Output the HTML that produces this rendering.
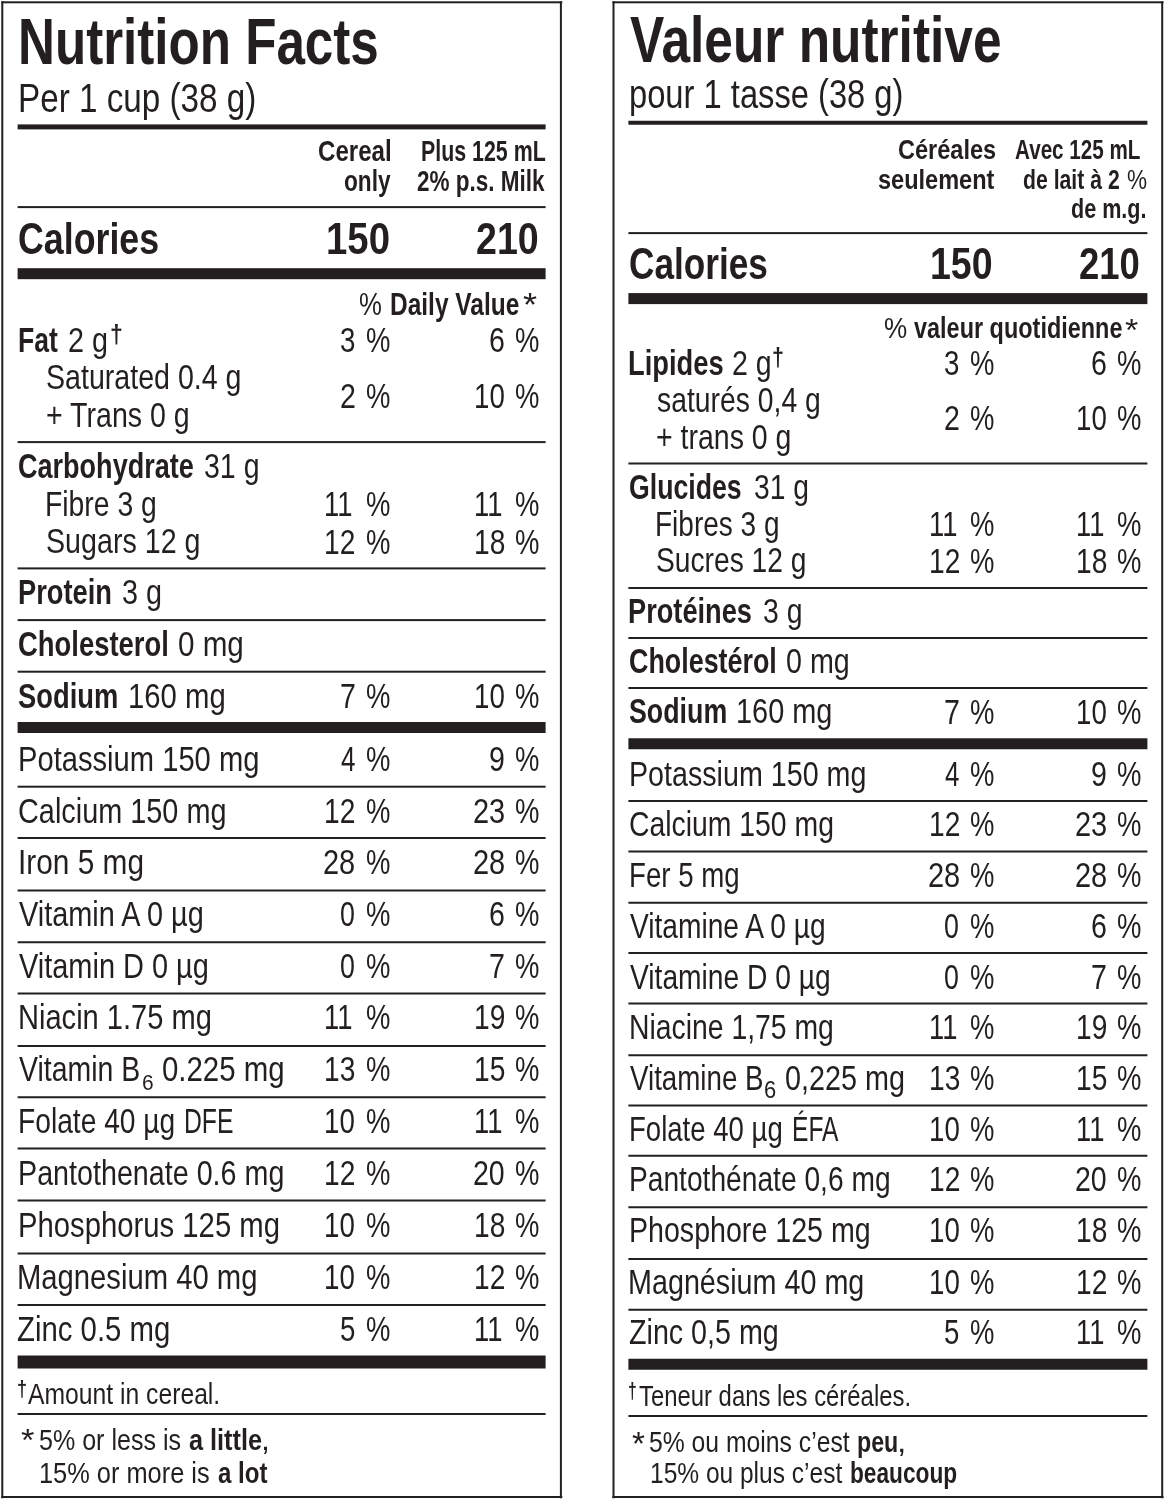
<!DOCTYPE html>
<html lang="en">
<head>
<meta charset="utf-8">
<title>Nutrition Facts / Valeur nutritive</title>
<style>
html,body{margin:0;padding:0;background:#fff;}
body{width:1165px;height:1500px;position:relative;overflow:hidden;font-family:"Liberation Sans", sans-serif;color:#231f20;}
.r{position:absolute;background:#231f20;}
.t{position:absolute;white-space:nowrap;line-height:1;transform-origin:0 0;font-weight:400;}
.b{font-weight:700;}
#w{position:absolute;left:0;top:0;width:1165px;height:1500px;will-change:transform;}
</style>
</head>
<body>
<div id="w">
<div class="r" style="left:0;top:0;width:560.6px;height:2px;transform:translate(1.3px,1.3px)"></div>
<div class="r" style="left:0;top:0;width:560.6px;height:1.9px;transform:translate(1.3px,1496px)"></div>
<div class="r" style="left:0;top:0;width:1.9px;height:1496.6px;transform:translate(1.3px,1.3px)"></div>
<div class="r" style="left:0;top:0;width:2px;height:1496.6px;transform:translate(559.9px,1.3px)"></div>
<div class="r" style="left:0;top:0;width:527.7px;height:4.5px;transform:translate(17.6px,124.4px)"></div>
<div class="r" style="left:0;top:0;width:527.7px;height:2px;transform:translate(17.6px,206.1px)"></div>
<div class="r" style="left:0;top:0;width:527.7px;height:11px;transform:translate(17.6px,268.2px)"></div>
<div class="r" style="left:0;top:0;width:527.7px;height:2px;transform:translate(17.6px,441.1px)"></div>
<div class="r" style="left:0;top:0;width:527.7px;height:2px;transform:translate(17.6px,567.4px)"></div>
<div class="r" style="left:0;top:0;width:527.7px;height:2px;transform:translate(17.6px,619.1px)"></div>
<div class="r" style="left:0;top:0;width:527.7px;height:2px;transform:translate(17.6px,670.7px)"></div>
<div class="r" style="left:0;top:0;width:527.7px;height:10.9px;transform:translate(17.6px,722px)"></div>
<div class="r" style="left:0;top:0;width:527.7px;height:2px;transform:translate(17.6px,785.7px)"></div>
<div class="r" style="left:0;top:0;width:527.7px;height:2px;transform:translate(17.6px,837px)"></div>
<div class="r" style="left:0;top:0;width:527.7px;height:2px;transform:translate(17.6px,889.5px)"></div>
<div class="r" style="left:0;top:0;width:527.7px;height:2px;transform:translate(17.6px,941.25px)"></div>
<div class="r" style="left:0;top:0;width:527.7px;height:2px;transform:translate(17.6px,992.5px)"></div>
<div class="r" style="left:0;top:0;width:527.7px;height:2px;transform:translate(17.6px,1045px)"></div>
<div class="r" style="left:0;top:0;width:527.7px;height:2px;transform:translate(17.6px,1096.25px)"></div>
<div class="r" style="left:0;top:0;width:527.7px;height:2px;transform:translate(17.6px,1147.5px)"></div>
<div class="r" style="left:0;top:0;width:527.7px;height:2px;transform:translate(17.6px,1199.5px)"></div>
<div class="r" style="left:0;top:0;width:527.7px;height:2px;transform:translate(17.6px,1252.5px)"></div>
<div class="r" style="left:0;top:0;width:527.7px;height:2px;transform:translate(17.6px,1304px)"></div>
<div class="r" style="left:0;top:0;width:527.7px;height:12.5px;transform:translate(17.6px,1355.5px)"></div>
<div class="r" style="left:0;top:0;width:527.7px;height:2px;transform:translate(17.6px,1413px)"></div>
<div class="r" style="left:0;top:0;width:550.6px;height:2px;transform:translate(612.5px,1.3px)"></div>
<div class="r" style="left:0;top:0;width:550.6px;height:1.9px;transform:translate(612.5px,1496px)"></div>
<div class="r" style="left:0;top:0;width:2px;height:1496.6px;transform:translate(612.5px,1.3px)"></div>
<div class="r" style="left:0;top:0;width:1.9px;height:1496.6px;transform:translate(1161.2px,1.3px)"></div>
<div class="r" style="left:0;top:0;width:518.6px;height:4.25px;transform:translate(628.4px,120.75px)"></div>
<div class="r" style="left:0;top:0;width:518.6px;height:2px;transform:translate(628.4px,232.1px)"></div>
<div class="r" style="left:0;top:0;width:518.6px;height:10.6px;transform:translate(628.4px,293.1px)"></div>
<div class="r" style="left:0;top:0;width:518.6px;height:2px;transform:translate(628.4px,462.5px)"></div>
<div class="r" style="left:0;top:0;width:518.6px;height:2px;transform:translate(628.4px,587px)"></div>
<div class="r" style="left:0;top:0;width:518.6px;height:2px;transform:translate(628.4px,637px)"></div>
<div class="r" style="left:0;top:0;width:518.6px;height:2px;transform:translate(628.4px,687px)"></div>
<div class="r" style="left:0;top:0;width:518.6px;height:10.5px;transform:translate(628.4px,738.25px)"></div>
<div class="r" style="left:0;top:0;width:518.6px;height:2px;transform:translate(628.4px,800px)"></div>
<div class="r" style="left:0;top:0;width:518.6px;height:2px;transform:translate(628.4px,850.5px)"></div>
<div class="r" style="left:0;top:0;width:518.6px;height:2px;transform:translate(628.4px,901.75px)"></div>
<div class="r" style="left:0;top:0;width:518.6px;height:2px;transform:translate(628.4px,952px)"></div>
<div class="r" style="left:0;top:0;width:518.6px;height:2px;transform:translate(628.4px,1002.5px)"></div>
<div class="r" style="left:0;top:0;width:518.6px;height:2px;transform:translate(628.4px,1054.25px)"></div>
<div class="r" style="left:0;top:0;width:518.6px;height:2px;transform:translate(628.4px,1104.5px)"></div>
<div class="r" style="left:0;top:0;width:518.6px;height:2px;transform:translate(628.4px,1154.75px)"></div>
<div class="r" style="left:0;top:0;width:518.6px;height:2px;transform:translate(628.4px,1206.25px)"></div>
<div class="r" style="left:0;top:0;width:518.6px;height:2px;transform:translate(628.4px,1258px)"></div>
<div class="r" style="left:0;top:0;width:518.6px;height:2px;transform:translate(628.4px,1308.75px)"></div>
<div class="r" style="left:0;top:0;width:518.6px;height:11.25px;transform:translate(628.4px,1358.75px)"></div>
<div class="r" style="left:0;top:0;width:518.6px;height:2px;transform:translate(628.4px,1415px)"></div>
<div class="t b" style="left:18.30px;top:9.20px;font-size:65.4px;transform:scaleX(0.7818)">Nutrition Facts</div>
<div class="t" style="left:18.40px;top:78.00px;font-size:40px;transform:scaleX(0.8309)">Per 1 cup (38 g)</div>
<div class="t b" style="left:317.75px;top:136.00px;font-size:29.5px;transform:scaleX(0.8168)">Cereal</div>
<div class="t b" style="left:344.29px;top:166.00px;font-size:29.5px;transform:scaleX(0.7679)">only</div>
<div class="t b" style="left:420.66px;top:136.00px;font-size:29.5px;transform:scaleX(0.7243)">Plus 125 mL</div>
<div class="t b" style="left:417.30px;top:166.00px;font-size:29.5px;transform:scaleX(0.7628)">2% p.s. Milk</div>
<div class="t b" style="left:18.38px;top:215.50px;font-size:45px;transform:scaleX(0.7944)">Calories</div>
<div class="t b" style="left:325.60px;top:215.50px;font-size:45px;transform:scaleX(0.8517)">150</div>
<div class="t b" style="left:475.83px;top:215.50px;font-size:45px;transform:scaleX(0.8351)">210</div>
<div class="t" style="left:359.20px;top:288.50px;font-size:30.5px;transform:scaleX(0.8433)">%</div>
<div class="t b" style="left:389.77px;top:288.50px;font-size:30.5px;transform:scaleX(0.8030)">Daily Value</div>
<div class="t" style="left:523.43px;top:287.59px;font-size:40px;transform:scale(0.9043,0.8200)">*</div>
<div class="t b" style="left:18.34px;top:322.76px;font-size:34.6px;transform:scaleX(0.7666)">Fat</div>
<div class="t" style="left:67.65px;top:322.75px;font-size:34.5px;transform:scaleX(0.8332)">2 g</div>
<div class="t b" style="left:109.76px;top:321.19px;font-size:24px;transform:scale(0.9619,1.1026)">†</div>
<div class="t" style="left:340.19px;top:322.75px;font-size:34.5px;transform:scaleX(0.8019)">3</div>
<div class="t" style="left:365.69px;top:322.75px;font-size:34.5px;transform:scaleX(0.7945)">%</div>
<div class="t" style="left:488.96px;top:322.75px;font-size:34.5px;transform:scaleX(0.8286)">6</div>
<div class="t" style="left:514.94px;top:322.75px;font-size:34.5px;transform:scaleX(0.7945)">%</div>
<div class="t" style="left:46.11px;top:360.25px;font-size:34.5px;transform:scaleX(0.8287)">Saturated 0.4 g</div>
<div class="t" style="left:46.16px;top:397.75px;font-size:34.5px;transform:scaleX(0.8278)">+ Trans 0 g</div>
<div class="t" style="left:339.71px;top:379.00px;font-size:34.5px;transform:scaleX(0.8286)">2</div>
<div class="t" style="left:365.69px;top:379.00px;font-size:34.5px;transform:scaleX(0.7945)">%</div>
<div class="t" style="left:473.57px;top:379.00px;font-size:34.5px;transform:scaleX(0.8032)">10</div>
<div class="t" style="left:514.94px;top:379.00px;font-size:34.5px;transform:scaleX(0.7945)">%</div>
<div class="t b" style="left:17.75px;top:449.01px;font-size:34.6px;transform:scaleX(0.7820)">Carbohydrate</div>
<div class="t" style="left:203.61px;top:449.00px;font-size:34.5px;transform:scaleX(0.8264)">31 g</div>
<div class="t" style="left:45.29px;top:486.50px;font-size:34.5px;transform:scaleX(0.8212)">Fibre 3 g</div>
<div class="t" style="left:324.34px;top:487.00px;font-size:34.5px;transform:scaleX(0.7936)">11</div>
<div class="t" style="left:365.69px;top:487.00px;font-size:34.5px;transform:scaleX(0.7945)">%</div>
<div class="t" style="left:473.59px;top:487.00px;font-size:34.5px;transform:scaleX(0.7936)">11</div>
<div class="t" style="left:514.94px;top:487.00px;font-size:34.5px;transform:scaleX(0.7945)">%</div>
<div class="t" style="left:46.10px;top:524.00px;font-size:34.5px;transform:scaleX(0.8305)">Sugars 12 g</div>
<div class="t" style="left:324.29px;top:524.50px;font-size:34.5px;transform:scaleX(0.8156)">12</div>
<div class="t" style="left:365.69px;top:524.50px;font-size:34.5px;transform:scaleX(0.7945)">%</div>
<div class="t" style="left:473.54px;top:524.50px;font-size:34.5px;transform:scaleX(0.8156)">18</div>
<div class="t" style="left:514.94px;top:524.50px;font-size:34.5px;transform:scaleX(0.7945)">%</div>
<div class="t b" style="left:18.29px;top:575.26px;font-size:34.6px;transform:scaleX(0.7889)">Protein</div>
<div class="t" style="left:121.60px;top:575.25px;font-size:34.5px;transform:scaleX(0.8344)">3 g</div>
<div class="t b" style="left:17.74px;top:627.01px;font-size:34.6px;transform:scaleX(0.7927)">Cholesterol</div>
<div class="t" style="left:177.82px;top:627.00px;font-size:34.5px;transform:scaleX(0.8584)">0 mg</div>
<div class="t b" style="left:18.37px;top:678.51px;font-size:34.6px;transform:scaleX(0.7906)">Sodium</div>
<div class="t" style="left:127.67px;top:678.50px;font-size:34.5px;transform:scaleX(0.8493)">160 mg</div>
<div class="t" style="left:339.71px;top:679.00px;font-size:34.5px;transform:scaleX(0.8286)">7</div>
<div class="t" style="left:365.69px;top:679.00px;font-size:34.5px;transform:scaleX(0.7945)">%</div>
<div class="t" style="left:473.57px;top:679.00px;font-size:34.5px;transform:scaleX(0.8032)">10</div>
<div class="t" style="left:514.94px;top:679.00px;font-size:34.5px;transform:scaleX(0.7945)">%</div>
<div class="t" style="left:17.72px;top:741.50px;font-size:34.5px;transform:scaleX(0.8449)">Potassium 150 mg</div>
<div class="t" style="left:340.64px;top:741.50px;font-size:34.5px;transform:scaleX(0.7533)">4</div>
<div class="t" style="left:365.69px;top:741.50px;font-size:34.5px;transform:scaleX(0.7945)">%</div>
<div class="t" style="left:488.96px;top:741.50px;font-size:34.5px;transform:scaleX(0.8286)">9</div>
<div class="t" style="left:514.94px;top:741.50px;font-size:34.5px;transform:scaleX(0.7945)">%</div>
<div class="t" style="left:18.15px;top:793.50px;font-size:34.5px;transform:scaleX(0.8363)">Calcium 150 mg</div>
<div class="t" style="left:324.29px;top:793.50px;font-size:34.5px;transform:scaleX(0.8156)">12</div>
<div class="t" style="left:365.69px;top:793.50px;font-size:34.5px;transform:scaleX(0.7945)">%</div>
<div class="t" style="left:472.64px;top:793.50px;font-size:34.5px;transform:scaleX(0.8400)">23</div>
<div class="t" style="left:514.94px;top:793.50px;font-size:34.5px;transform:scaleX(0.7945)">%</div>
<div class="t" style="left:17.67px;top:844.75px;font-size:34.5px;transform:scaleX(0.8646)">Iron 5 mg</div>
<div class="t" style="left:323.39px;top:844.75px;font-size:34.5px;transform:scaleX(0.8400)">28</div>
<div class="t" style="left:365.69px;top:844.75px;font-size:34.5px;transform:scaleX(0.7945)">%</div>
<div class="t" style="left:472.64px;top:844.75px;font-size:34.5px;transform:scaleX(0.8400)">28</div>
<div class="t" style="left:514.94px;top:844.75px;font-size:34.5px;transform:scaleX(0.7945)">%</div>
<div class="t" style="left:18.75px;top:897.25px;font-size:34.5px;transform:scaleX(0.8371)">Vitamin A 0 µg</div>
<div class="t" style="left:340.21px;top:897.25px;font-size:34.5px;transform:scaleX(0.7768)">0</div>
<div class="t" style="left:365.69px;top:897.25px;font-size:34.5px;transform:scaleX(0.7945)">%</div>
<div class="t" style="left:488.96px;top:897.25px;font-size:34.5px;transform:scaleX(0.8286)">6</div>
<div class="t" style="left:514.94px;top:897.25px;font-size:34.5px;transform:scaleX(0.7945)">%</div>
<div class="t" style="left:18.75px;top:949.00px;font-size:34.5px;transform:scaleX(0.8389)">Vitamin D 0 µg</div>
<div class="t" style="left:340.21px;top:949.00px;font-size:34.5px;transform:scaleX(0.7768)">0</div>
<div class="t" style="left:365.69px;top:949.00px;font-size:34.5px;transform:scaleX(0.7945)">%</div>
<div class="t" style="left:488.96px;top:949.00px;font-size:34.5px;transform:scaleX(0.8286)">7</div>
<div class="t" style="left:514.94px;top:949.00px;font-size:34.5px;transform:scaleX(0.7945)">%</div>
<div class="t" style="left:17.73px;top:1000.25px;font-size:34.5px;transform:scaleX(0.8426)">Niacin 1.75 mg</div>
<div class="t" style="left:324.34px;top:1000.25px;font-size:34.5px;transform:scaleX(0.7936)">11</div>
<div class="t" style="left:365.69px;top:1000.25px;font-size:34.5px;transform:scaleX(0.7945)">%</div>
<div class="t" style="left:473.54px;top:1000.25px;font-size:34.5px;transform:scaleX(0.8156)">19</div>
<div class="t" style="left:514.94px;top:1000.25px;font-size:34.5px;transform:scaleX(0.7945)">%</div>
<div class="t" style="left:324.29px;top:1052.00px;font-size:34.5px;transform:scaleX(0.8156)">13</div>
<div class="t" style="left:365.69px;top:1052.00px;font-size:34.5px;transform:scaleX(0.7945)">%</div>
<div class="t" style="left:473.54px;top:1052.00px;font-size:34.5px;transform:scaleX(0.8156)">15</div>
<div class="t" style="left:514.94px;top:1052.00px;font-size:34.5px;transform:scaleX(0.7945)">%</div>
<div class="t" style="left:17.80px;top:1104.00px;font-size:34.5px;transform:scaleX(0.8171)">Folate 40 µg</div>
<div class="t" style="left:324.32px;top:1104.00px;font-size:34.5px;transform:scaleX(0.8032)">10</div>
<div class="t" style="left:365.69px;top:1104.00px;font-size:34.5px;transform:scaleX(0.7945)">%</div>
<div class="t" style="left:473.59px;top:1104.00px;font-size:34.5px;transform:scaleX(0.7936)">11</div>
<div class="t" style="left:514.94px;top:1104.00px;font-size:34.5px;transform:scaleX(0.7945)">%</div>
<div class="t" style="left:17.76px;top:1155.75px;font-size:34.5px;transform:scaleX(0.8315)">Pantothenate 0.6 mg</div>
<div class="t" style="left:324.29px;top:1155.75px;font-size:34.5px;transform:scaleX(0.8156)">12</div>
<div class="t" style="left:365.69px;top:1155.75px;font-size:34.5px;transform:scaleX(0.7945)">%</div>
<div class="t" style="left:472.66px;top:1155.75px;font-size:34.5px;transform:scaleX(0.8273)">20</div>
<div class="t" style="left:514.94px;top:1155.75px;font-size:34.5px;transform:scaleX(0.7945)">%</div>
<div class="t" style="left:17.71px;top:1207.75px;font-size:34.5px;transform:scaleX(0.8483)">Phosphorus 125 mg</div>
<div class="t" style="left:324.32px;top:1207.75px;font-size:34.5px;transform:scaleX(0.8032)">10</div>
<div class="t" style="left:365.69px;top:1207.75px;font-size:34.5px;transform:scaleX(0.7945)">%</div>
<div class="t" style="left:473.54px;top:1207.75px;font-size:34.5px;transform:scaleX(0.8156)">18</div>
<div class="t" style="left:514.94px;top:1207.75px;font-size:34.5px;transform:scaleX(0.7945)">%</div>
<div class="t" style="left:17.22px;top:1260.25px;font-size:34.5px;transform:scaleX(0.8472)">Magnesium 40 mg</div>
<div class="t" style="left:324.32px;top:1260.25px;font-size:34.5px;transform:scaleX(0.8032)">10</div>
<div class="t" style="left:365.69px;top:1260.25px;font-size:34.5px;transform:scaleX(0.7945)">%</div>
<div class="t" style="left:473.54px;top:1260.25px;font-size:34.5px;transform:scaleX(0.8156)">12</div>
<div class="t" style="left:514.94px;top:1260.25px;font-size:34.5px;transform:scaleX(0.7945)">%</div>
<div class="t" style="left:17.08px;top:1311.50px;font-size:34.5px;transform:scaleX(0.8507)">Zinc 0.5 mg</div>
<div class="t" style="left:340.19px;top:1311.50px;font-size:34.5px;transform:scaleX(0.8019)">5</div>
<div class="t" style="left:365.69px;top:1311.50px;font-size:34.5px;transform:scaleX(0.7945)">%</div>
<div class="t" style="left:473.59px;top:1311.50px;font-size:34.5px;transform:scaleX(0.7936)">11</div>
<div class="t" style="left:514.94px;top:1311.50px;font-size:34.5px;transform:scaleX(0.7945)">%</div>
<div class="t" style="left:183.87px;top:1104.00px;font-size:34.5px;transform:scaleX(0.7170)">DFE</div>
<div class="t" style="left:18.75px;top:1052.00px;font-size:34.5px;transform:scaleX(0.8244)">Vitamin B</div>
<div class="t" style="left:141.62px;top:1071.45px;font-size:23px;transform:scale(0.9090,0.9739)">6</div>
<div class="t" style="left:162.33px;top:1052.00px;font-size:34.5px;transform:scaleX(0.8521)">0.225 mg</div>
<div class="t b" style="left:17.17px;top:1377.57px;font-size:18px;transform:scale(1.0032,1.1966)">†</div>
<div class="t" style="left:28.00px;top:1378.50px;font-size:30px;transform:scaleX(0.8234)">Amount in cereal.</div>
<div class="t" style="left:21.16px;top:1424.20px;font-size:36px;transform:scale(0.9585,0.8963)">*</div>
<div class="t" style="left:38.72px;top:1425.00px;font-size:30px;transform:scaleX(0.8354)">5% or less is</div>
<div class="t b" style="left:188.61px;top:1425.00px;font-size:30px;transform:scaleX(0.8424)">a little</div>
<div class="t" style="left:260.50px;top:1425.00px;font-size:30px;transform:scaleX(1.0667)">,</div>
<div class="t" style="left:39.16px;top:1457.50px;font-size:30px;transform:scaleX(0.8458)">15% or more is</div>
<div class="t b" style="left:217.62px;top:1457.50px;font-size:30px;transform:scaleX(0.8026)">a lot</div>
<div class="t b" style="left:630.00px;top:8.00px;font-size:64px;transform:scaleX(0.8035)">Valeur nutritive</div>
<div class="t" style="left:628.76px;top:74.00px;font-size:40px;transform:scaleX(0.8174)">pour 1 tasse (38 g)</div>
<div class="t b" style="left:897.51px;top:135.00px;font-size:28.5px;transform:scaleX(0.8262)">Céréales</div>
<div class="t b" style="left:878.46px;top:164.71px;font-size:28.5px;transform:scaleX(0.8257)">seulement</div>
<div class="t b" style="left:1014.88px;top:135.00px;font-size:28.5px;transform:scaleX(0.7244)">Avec 125 mL</div>
<div class="t b" style="left:1022.84px;top:164.71px;font-size:28.5px;transform:scaleX(0.7444)">de lait à 2</div>
<div class="t" style="left:1127.19px;top:164.71px;font-size:28.5px;transform:scaleX(0.7923)">%</div>
<div class="t b" style="left:1070.53px;top:194.30px;font-size:28.5px;transform:scaleX(0.7573)">de m.g.</div>
<div class="t b" style="left:628.90px;top:240.75px;font-size:45px;transform:scaleX(0.7815)">Calories</div>
<div class="t b" style="left:930.40px;top:240.75px;font-size:45px;transform:scaleX(0.8340)">150</div>
<div class="t b" style="left:1079.11px;top:240.75px;font-size:45px;transform:scaleX(0.8107)">210</div>
<div class="t" style="left:883.78px;top:313.21px;font-size:30px;transform:scaleX(0.8694)">%</div>
<div class="t b" style="left:913.50px;top:313.21px;font-size:30px;transform:scaleX(0.7817)">valeur quotidienne</div>
<div class="t" style="left:1125.47px;top:313.93px;font-size:40px;transform:scale(0.8487,0.7800)">*</div>
<div class="t b" style="left:628.29px;top:345.76px;font-size:34.6px;transform:scaleX(0.7912)">Lipides</div>
<div class="t" style="left:732.41px;top:345.75px;font-size:34.5px;transform:scaleX(0.8276)">2 g</div>
<div class="t b" style="left:772.46px;top:344.19px;font-size:24px;transform:scale(0.8952,1.1026)">†</div>
<div class="t" style="left:944.44px;top:345.75px;font-size:34.5px;transform:scaleX(0.8019)">3</div>
<div class="t" style="left:969.94px;top:345.75px;font-size:34.5px;transform:scaleX(0.7945)">%</div>
<div class="t" style="left:1090.96px;top:345.75px;font-size:34.5px;transform:scaleX(0.8286)">6</div>
<div class="t" style="left:1116.94px;top:345.75px;font-size:34.5px;transform:scaleX(0.7945)">%</div>
<div class="t" style="left:656.56px;top:382.75px;font-size:34.5px;transform:scaleX(0.8212)">saturés 0,4 g</div>
<div class="t" style="left:656.16px;top:419.50px;font-size:34.5px;transform:scaleX(0.8259)">+ trans 0 g</div>
<div class="t" style="left:943.96px;top:401.25px;font-size:34.5px;transform:scaleX(0.8286)">2</div>
<div class="t" style="left:969.94px;top:401.25px;font-size:34.5px;transform:scaleX(0.7945)">%</div>
<div class="t" style="left:1075.57px;top:401.25px;font-size:34.5px;transform:scaleX(0.8032)">10</div>
<div class="t" style="left:1116.94px;top:401.25px;font-size:34.5px;transform:scaleX(0.7945)">%</div>
<div class="t b" style="left:629.17px;top:470.26px;font-size:34.6px;transform:scaleX(0.7710)">Glucides</div>
<div class="t" style="left:753.62px;top:470.25px;font-size:34.5px;transform:scaleX(0.8186)">31 g</div>
<div class="t" style="left:655.31px;top:506.50px;font-size:34.5px;transform:scaleX(0.8117)">Fibres 3 g</div>
<div class="t" style="left:928.59px;top:506.75px;font-size:34.5px;transform:scaleX(0.7936)">11</div>
<div class="t" style="left:969.94px;top:506.75px;font-size:34.5px;transform:scaleX(0.7945)">%</div>
<div class="t" style="left:1075.59px;top:506.75px;font-size:34.5px;transform:scaleX(0.7936)">11</div>
<div class="t" style="left:1116.94px;top:506.75px;font-size:34.5px;transform:scaleX(0.7945)">%</div>
<div class="t" style="left:656.12px;top:543.25px;font-size:34.5px;transform:scaleX(0.8173)">Sucres 12 g</div>
<div class="t" style="left:928.54px;top:543.50px;font-size:34.5px;transform:scaleX(0.8156)">12</div>
<div class="t" style="left:969.94px;top:543.50px;font-size:34.5px;transform:scaleX(0.7945)">%</div>
<div class="t" style="left:1075.54px;top:543.50px;font-size:34.5px;transform:scaleX(0.8156)">18</div>
<div class="t" style="left:1116.94px;top:543.50px;font-size:34.5px;transform:scaleX(0.7945)">%</div>
<div class="t b" style="left:628.30px;top:594.01px;font-size:34.6px;transform:scaleX(0.7868)">Protéines</div>
<div class="t" style="left:762.86px;top:594.00px;font-size:34.5px;transform:scaleX(0.8232)">3 g</div>
<div class="t b" style="left:628.66px;top:644.01px;font-size:34.6px;transform:scaleX(0.7772)">Cholestérol</div>
<div class="t" style="left:786.10px;top:644.00px;font-size:34.5px;transform:scaleX(0.8313)">0 mg</div>
<div class="t b" style="left:629.08px;top:694.01px;font-size:34.6px;transform:scaleX(0.7749)">Sodium</div>
<div class="t" style="left:736.44px;top:694.00px;font-size:34.5px;transform:scaleX(0.8380)">160 mg</div>
<div class="t" style="left:943.96px;top:694.50px;font-size:34.5px;transform:scaleX(0.8286)">7</div>
<div class="t" style="left:969.94px;top:694.50px;font-size:34.5px;transform:scaleX(0.7945)">%</div>
<div class="t" style="left:1075.57px;top:694.50px;font-size:34.5px;transform:scaleX(0.8032)">10</div>
<div class="t" style="left:1116.94px;top:694.50px;font-size:34.5px;transform:scaleX(0.7945)">%</div>
<div class="t" style="left:628.76px;top:756.50px;font-size:34.5px;transform:scaleX(0.8307)">Potassium 150 mg</div>
<div class="t" style="left:944.89px;top:756.50px;font-size:34.5px;transform:scaleX(0.7533)">4</div>
<div class="t" style="left:969.94px;top:756.50px;font-size:34.5px;transform:scaleX(0.7945)">%</div>
<div class="t" style="left:1090.96px;top:756.50px;font-size:34.5px;transform:scaleX(0.8286)">9</div>
<div class="t" style="left:1116.94px;top:756.50px;font-size:34.5px;transform:scaleX(0.7945)">%</div>
<div class="t" style="left:629.17px;top:807.25px;font-size:34.5px;transform:scaleX(0.8221)">Calcium 150 mg</div>
<div class="t" style="left:928.54px;top:807.25px;font-size:34.5px;transform:scaleX(0.8156)">12</div>
<div class="t" style="left:969.94px;top:807.25px;font-size:34.5px;transform:scaleX(0.7945)">%</div>
<div class="t" style="left:1074.64px;top:807.25px;font-size:34.5px;transform:scaleX(0.8400)">23</div>
<div class="t" style="left:1116.94px;top:807.25px;font-size:34.5px;transform:scaleX(0.7945)">%</div>
<div class="t" style="left:628.84px;top:857.75px;font-size:34.5px;transform:scaleX(0.8021)">Fer 5 mg</div>
<div class="t" style="left:927.64px;top:857.75px;font-size:34.5px;transform:scaleX(0.8400)">28</div>
<div class="t" style="left:969.94px;top:857.75px;font-size:34.5px;transform:scaleX(0.7945)">%</div>
<div class="t" style="left:1074.64px;top:857.75px;font-size:34.5px;transform:scaleX(0.8400)">28</div>
<div class="t" style="left:1116.94px;top:857.75px;font-size:34.5px;transform:scaleX(0.7945)">%</div>
<div class="t" style="left:629.75px;top:909.00px;font-size:34.5px;transform:scaleX(0.8161)">Vitamine A 0 µg</div>
<div class="t" style="left:944.46px;top:909.00px;font-size:34.5px;transform:scaleX(0.7768)">0</div>
<div class="t" style="left:969.94px;top:909.00px;font-size:34.5px;transform:scaleX(0.7945)">%</div>
<div class="t" style="left:1090.96px;top:909.00px;font-size:34.5px;transform:scaleX(0.8286)">6</div>
<div class="t" style="left:1116.94px;top:909.00px;font-size:34.5px;transform:scaleX(0.7945)">%</div>
<div class="t" style="left:629.75px;top:959.75px;font-size:34.5px;transform:scaleX(0.8170)">Vitamine D 0 µg</div>
<div class="t" style="left:944.46px;top:959.75px;font-size:34.5px;transform:scaleX(0.7768)">0</div>
<div class="t" style="left:969.94px;top:959.75px;font-size:34.5px;transform:scaleX(0.7945)">%</div>
<div class="t" style="left:1090.96px;top:959.75px;font-size:34.5px;transform:scaleX(0.8286)">7</div>
<div class="t" style="left:1116.94px;top:959.75px;font-size:34.5px;transform:scaleX(0.7945)">%</div>
<div class="t" style="left:628.79px;top:1009.75px;font-size:34.5px;transform:scaleX(0.8215)">Niacine 1,75 mg</div>
<div class="t" style="left:928.59px;top:1009.75px;font-size:34.5px;transform:scaleX(0.7936)">11</div>
<div class="t" style="left:969.94px;top:1009.75px;font-size:34.5px;transform:scaleX(0.7945)">%</div>
<div class="t" style="left:1075.54px;top:1009.75px;font-size:34.5px;transform:scaleX(0.8156)">19</div>
<div class="t" style="left:1116.94px;top:1009.75px;font-size:34.5px;transform:scaleX(0.7945)">%</div>
<div class="t" style="left:928.54px;top:1060.75px;font-size:34.5px;transform:scaleX(0.8156)">13</div>
<div class="t" style="left:969.94px;top:1060.75px;font-size:34.5px;transform:scaleX(0.7945)">%</div>
<div class="t" style="left:1075.54px;top:1060.75px;font-size:34.5px;transform:scaleX(0.8156)">15</div>
<div class="t" style="left:1116.94px;top:1060.75px;font-size:34.5px;transform:scaleX(0.7945)">%</div>
<div class="t" style="left:628.85px;top:1111.50px;font-size:34.5px;transform:scaleX(0.7985)">Folate 40 µg</div>
<div class="t" style="left:928.57px;top:1111.50px;font-size:34.5px;transform:scaleX(0.8032)">10</div>
<div class="t" style="left:969.94px;top:1111.50px;font-size:34.5px;transform:scaleX(0.7945)">%</div>
<div class="t" style="left:1075.59px;top:1111.50px;font-size:34.5px;transform:scaleX(0.7936)">11</div>
<div class="t" style="left:1116.94px;top:1111.50px;font-size:34.5px;transform:scaleX(0.7945)">%</div>
<div class="t" style="left:628.80px;top:1162.25px;font-size:34.5px;transform:scaleX(0.8165)">Pantothénate 0,6 mg</div>
<div class="t" style="left:928.54px;top:1162.25px;font-size:34.5px;transform:scaleX(0.8156)">12</div>
<div class="t" style="left:969.94px;top:1162.25px;font-size:34.5px;transform:scaleX(0.7945)">%</div>
<div class="t" style="left:1074.66px;top:1162.25px;font-size:34.5px;transform:scaleX(0.8273)">20</div>
<div class="t" style="left:1116.94px;top:1162.25px;font-size:34.5px;transform:scaleX(0.7945)">%</div>
<div class="t" style="left:628.77px;top:1213.25px;font-size:34.5px;transform:scaleX(0.8287)">Phosphore 125 mg</div>
<div class="t" style="left:928.57px;top:1213.25px;font-size:34.5px;transform:scaleX(0.8032)">10</div>
<div class="t" style="left:969.94px;top:1213.25px;font-size:34.5px;transform:scaleX(0.7945)">%</div>
<div class="t" style="left:1075.54px;top:1213.25px;font-size:34.5px;transform:scaleX(0.8156)">18</div>
<div class="t" style="left:1116.94px;top:1213.25px;font-size:34.5px;transform:scaleX(0.7945)">%</div>
<div class="t" style="left:628.26px;top:1264.50px;font-size:34.5px;transform:scaleX(0.8328)">Magnésium 40 mg</div>
<div class="t" style="left:928.57px;top:1264.50px;font-size:34.5px;transform:scaleX(0.8032)">10</div>
<div class="t" style="left:969.94px;top:1264.50px;font-size:34.5px;transform:scaleX(0.7945)">%</div>
<div class="t" style="left:1075.54px;top:1264.50px;font-size:34.5px;transform:scaleX(0.8156)">12</div>
<div class="t" style="left:1116.94px;top:1264.50px;font-size:34.5px;transform:scaleX(0.7945)">%</div>
<div class="t" style="left:628.60px;top:1315.25px;font-size:34.5px;transform:scaleX(0.8309)">Zinc 0,5 mg</div>
<div class="t" style="left:944.44px;top:1315.25px;font-size:34.5px;transform:scaleX(0.8019)">5</div>
<div class="t" style="left:969.94px;top:1315.25px;font-size:34.5px;transform:scaleX(0.7945)">%</div>
<div class="t" style="left:1075.59px;top:1315.25px;font-size:34.5px;transform:scaleX(0.7936)">11</div>
<div class="t" style="left:1116.94px;top:1315.25px;font-size:34.5px;transform:scaleX(0.7945)">%</div>
<div class="t" style="left:791.88px;top:1111.50px;font-size:34.5px;transform:scaleX(0.7133)">ÉFA</div>
<div class="t" style="left:629.75px;top:1060.75px;font-size:34.5px;transform:scaleX(0.8033)">Vitamine B</div>
<div class="t" style="left:763.97px;top:1078.75px;font-size:23px;transform:scale(0.9554,1.0102)">6</div>
<div class="t" style="left:785.20px;top:1060.75px;font-size:34.5px;transform:scaleX(0.8336)">0,225 mg</div>
<div class="t b" style="left:628.03px;top:1380.49px;font-size:18px;transform:scale(0.8635,1.1897)">†</div>
<div class="t" style="left:639.13px;top:1381.00px;font-size:30px;transform:scaleX(0.7957)">Teneur dans les céréales.</div>
<div class="t" style="left:632.08px;top:1426.67px;font-size:36px;transform:scale(0.9275,0.9259)">*</div>
<div class="t" style="left:649.23px;top:1426.75px;font-size:30px;transform:scaleX(0.8244)">5% ou moins c’est</div>
<div class="t b" style="left:857.25px;top:1426.75px;font-size:30px;transform:scaleX(0.7731)">peu</div>
<div class="t" style="left:896.98px;top:1426.75px;font-size:30px;transform:scaleX(1.1200)">,</div>
<div class="t" style="left:649.72px;top:1458.00px;font-size:30px;transform:scaleX(0.8174)">15% ou plus c’est</div>
<div class="t b" style="left:849.58px;top:1458.00px;font-size:30px;transform:scaleX(0.7564)">beaucoup</div>
</div>
</body>
</html>
